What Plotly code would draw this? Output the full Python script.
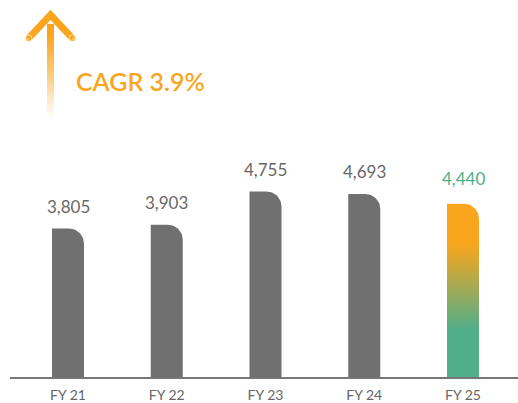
import numpy as np
import plotly.graph_objects as go

years = ["FY 21", "FY 22", "FY 23", "FY 24", "FY 25"]
revenue = [3805, 3903, 4755, 4693, 4440]
cagr_label = "CAGR 3.9%"

GRAY = "#707070"
LABEL_GRAY = "#676767"
ORANGE = "#F9A61E"
GREEN = "#50AE8A"
FONT = "Lato"

W, H = 518, 403
ML, MR, MT, MB = 10, 0, 0, 24
PX_X = 98.75          # pixels per category step
X0 = 68               # pixel centre of first bar
YMAX = 9665           # value at the top of the plot area
BAR_PX = 32
RAD_PX = 15

xr = [(ML - X0) / PX_X, (W - MR - X0) / PX_X]
px_per_y = (H - MT - MB) / YMAX


def bar_path(c, v):
    hw = BAR_PX / 2 / PX_X
    rx = RAD_PX / PX_X
    ry = RAD_PX / px_per_y
    t = np.linspace(np.pi / 2, 0, 16)
    xs = [c - hw, c - hw, c + hw - rx] + list(c + hw - rx + rx * np.cos(t)) + [c + hw, c - hw]
    ys = [0, v, v] + list(v - ry + ry * np.sin(t)) + [0, 0]
    return xs, ys


fig = go.Figure()
for i, v in enumerate(revenue):
    xs, ys = bar_path(i, v)
    last = i == len(revenue) - 1
    tr = dict(x=xs, y=ys, mode="lines", fill="toself", line=dict(width=0),
              hoverinfo="skip", showlegend=False)
    if last:
        tr["fillgradient"] = dict(type="vertical", start=0, stop=v,
                                  colorscale=[[0, GREEN], [0.28, GREEN], [0.77, ORANGE], [1, ORANGE]])
    else:
        tr["fillcolor"] = GRAY
    fig.add_trace(go.Scatter(**tr))
    fig.add_annotation(x=i, y=v, text=f"{v:,}", showarrow=False, yanchor="bottom",
                       yshift=13 if last else 10,
                       font=dict(family=FONT, size=17, color=GREEN if last else LABEL_GRAY))

# arrow drawn on an overlay axis in pixel units
shaft_x = [47, 54, 54, 47, 47]
shaft_y = [118, 118, 24, 24, 118]
fig.add_trace(go.Scatter(x=shaft_x, y=shaft_y, xaxis="x2", yaxis="y2", mode="lines",
                         fill="toself", line=dict(width=0), hoverinfo="skip", showlegend=False,
                         fillgradient=dict(type="vertical", start=118, stop=35,
                                           colorscale=[[0, "rgba(249,166,30,0)"],
                                                       [0.5, "rgba(249,166,30,0.55)"],
                                                       [1, "rgba(249,166,30,1)"]])))
fig.add_trace(go.Scatter(x=[28.5, 50.5, 72.5], y=[38.5, 15, 38.5], xaxis="x2", yaxis="y2",
                         mode="lines+markers", line=dict(color=ORANGE, width=7),
                         marker=dict(size=[7, 0, 7], color=ORANGE),
                         hoverinfo="skip", showlegend=False))

fig.add_annotation(x=74, y=81, xref="x2", yref="y2", text=cagr_label, showarrow=False,
                   xanchor="left", yanchor="middle",
                   font=dict(family=FONT, size=25, color=ORANGE, weight=600))

fig.update_layout(
    width=W, height=H, margin=dict(l=ML, r=MR, t=MT, b=MB),
    paper_bgcolor="white", plot_bgcolor="white",
    xaxis=dict(range=xr, tickvals=list(range(len(years))), ticktext=years,
               showgrid=False, zeroline=False, showline=True, linecolor="#777777", linewidth=2,
               ticks="outside", ticklen=4, tickcolor="rgba(0,0,0,0)",
               tickfont=dict(family=FONT, size=14, color="#666666"), fixedrange=True),
    yaxis=dict(range=[0, YMAX], visible=False, fixedrange=True),
    xaxis2=dict(range=[ML, W - MR], overlaying="x", visible=False, fixedrange=True),
    yaxis2=dict(range=[H - MB, MT], overlaying="y", visible=False, fixedrange=True),
)

fig.write_html("out.html", config={"displayModeBar": False},
               post_script="document.body.style.margin='0';")
